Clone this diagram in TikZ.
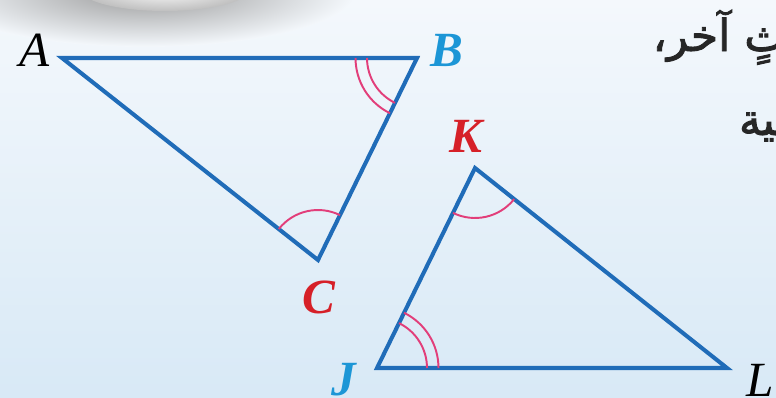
\documentclass[tikz,border=0pt]{standalone}
\usepackage{fontspec}
\setmainfont{Liberation Serif}
\newfontfamily\arabicfont[Script=Arabic,FakeBold=2]{DejaVu Sans}
\TeXXeTstate=1
\definecolor{edgeblue}{RGB}{32, 108, 184}
\definecolor{labblue}{RGB}{28, 150, 214}
\definecolor{labred}{RGB}{214, 32, 40}
\definecolor{arcpink}{RGB}{226, 62, 122}
\definecolor{bgtop}{RGB}{244, 248, 252}
\definecolor{bgbot}{RGB}{216, 233, 246}
\usetikzlibrary{angles}
\tikzset{
	edge/.style={draw=edgeblue, line width=2.3pt, line join=miter},
	anglemark/.style={draw=arcpink, line width=1.1pt, angle radius=1.0cm},
	widemark/.style={anglemark, angle radius=1.23cm},
	vlabel/.style={font=\fontsize{28}{30}\selectfont\itshape, inner sep=0pt},
	boldlabel/.style={vlabel, font=\fontsize{28}{30}\selectfont\bfseries\itshape},
	arabictext/.style={font=\arabicfont\fontsize{25}{30}\selectfont, inner sep=0pt, text=black!85},
}

\begin{document}
\begin{tikzpicture}[x=0.02cm, y=0.02cm]
		\useasboundingbox (0,0) rectangle (776,397);
		\clip (0,0) rectangle (776,397);
		% page background and shadow
		\shade[top color=bgtop, bottom color=bgbot] (0,0) rectangle (776,397);
		\shade[inner color=black!40, outer color=bgtop] (145,405) ellipse [x radius=210, y radius=55];
		\shade[inner color=white, outer color=black!25] (165,408) ellipse [x radius=85, y radius=22];
		% vertices
		\coordinate (A) at (62,339);
		\coordinate (B) at (417,339);
		\coordinate (C) at (318,137);
		\coordinate (K) at (475,229);
		\coordinate (J) at (377,29);
		\coordinate (L) at (727,29);
		% triangles
		\draw[edge] (A) -- (B) -- (C) -- cycle;
		\draw[edge] (J) -- (K) -- (L) -- cycle;
		% angle marks
		\pic[anglemark] {angle=A--B--C};
		\pic[widemark] {angle=A--B--C};
		\pic[anglemark] {angle=B--C--A};
		\pic[anglemark] {angle=J--K--L};
		\pic[anglemark] {angle=L--J--K};
		\pic[widemark] {angle=L--J--K};
		% vertex labels
		\node[vlabel] (labA) at (35,347) {A};
		\node[boldlabel, text=labblue] (labB) at (447,347) {B};
		\node[boldlabel, text=labred] (labC) at (319,100) {C};
		\node[boldlabel, text=labred] (labK) at (466,261) {K};
		\node[boldlabel, text=labblue] (labJ) at (344,17) {J};
		\node[vlabel] (labL) at (760,17) {L};
		% cut-off text on the right
		\node[arabictext, anchor=base east] (textone) at (786,346) {\beginR ثٍ آخر،\endR};
		\node[arabictext, anchor=base east] (texttwo) at (789,262) {\beginR ـية\endR};
	\end{tikzpicture}
\end{document}
